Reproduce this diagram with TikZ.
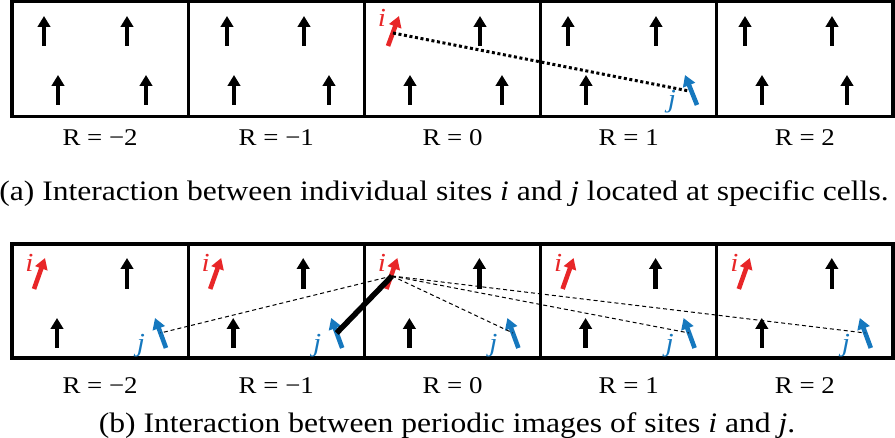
\documentclass[tikz,border=0pt]{standalone}
\usepackage{fontspec}
\setmainfont[FakeStretch=1.12]{Liberation Serif}
\usetikzlibrary{arrows.meta}
\definecolor{sred}{RGB}{232,38,40}
\definecolor{sblue}{RGB}{22,120,190}
\tikzset{
  spin/.style={line width=4.6pt,-{Triangle[width=12.5pt,length=11pt]}},
  cellbox/.style={line width=3.2pt},
  rlabel/.style={anchor=base,inner sep=0pt,font=\fontsize{24}{26}\selectfont},
  captxt/.style={anchor=base,inner sep=0pt,font=\fontsize{28.2}{31}\selectfont},
  lab/.style={anchor=base,inner sep=0pt,font=\fontsize{26}{28}\selectfont\itshape},
  dotlink/.style={line width=3pt,dash pattern=on 3pt off 2.6pt},
  dashlink/.style={line width=1pt,dash pattern=on 4pt off 3pt},
  thicklink/.style={line width=5.5pt}
}
\begin{document}
\begin{tikzpicture}[x=1pt,y=-1pt]
\useasboundingbox (0,0) rectangle (895,438);
% ---------- panel (a) ----------
\draw[cellbox] (12,1.6) rectangle (893,116.5);
\foreach \k in {1,...,4}{
  \pgfmathsetmacro\L{12+176.2*\k}
  \draw[cellbox] (\L,1.6) -- (\L,116.5);
}
% black spins, top row
\foreach \x in {44,127,227,304,480,568,656,745,832}{
  \draw[spin] (\x,46) -- (\x,16);
}
% black spins, bottom row
\foreach \x in {58,146,234,329,410,502,586,762,847}{
  \draw[spin] (\x,105) -- (\x,75);
}
\coordinate (ait) at (388,46);
\coordinate (aih) at (399,16);
\coordinate (ajt) at (697,105);
\coordinate (ajh) at (685,75);
\draw[spin,sred] (ait) -- (aih);
\draw[spin,sblue] (ajt) -- (ajh);
\node[lab,text=sred] (ail) at (382,27) {i};
\node[lab,text=sblue] (ajl) at (672,108) {j};
\coordinate (aic) at (393,33);
\coordinate (ajc) at (689,91);
\draw[dotlink] (aic) -- (ajc);
\foreach \k/\r in {0/−2,1/−1,2/0,3/1,4/2}{
  \pgfmathsetmacro\C{100.1+176.2*\k}
  \node[rlabel] (ra\k) at (\C,146) {R = \r};
}
\node[captxt] (capa) at (444,201) {(a) Interaction between individual sites \textit{i} and \textit{j} located at specific cells.};
% ---------- panel (b) ----------
\draw[cellbox] (12,244) rectangle (893,358);
\foreach \k in {1,...,4}{
  \pgfmathsetmacro\L{12+176.2*\k}
  \draw[cellbox] (\L,244) -- (\L,358);
}
\foreach \k in {0,...,4}{
  \pgfmathsetmacro\L{12+176.2*\k}
  \coordinate (bit\k) at (\L+22,289);
  \coordinate (bih\k) at (\L+33,258);
  \coordinate (bic\k) at (\L+27.6,276);
  \coordinate (bjt\k) at (\L+154,348);
  \coordinate (bjh\k) at (\L+143,318);
  \coordinate (bjc\k) at (\L+148.5,333);
  \draw[spin] (\L+115,289) -- (\L+115,258);
  \draw[spin] (\L+45,348) -- (\L+45,318);
  \draw[spin,sred] (bit\k) -- (bih\k);
  \draw[spin,sblue] (bjt\k) -- (bjh\k);
  \node[lab,text=sred] (bil\k) at (\L+17.5,272) {i};
  \node[lab,text=sblue] (bjl\k) at (\L+129,352) {j};
}
\draw[dashlink] (bic2) -- (bjc0);
\draw[dashlink] (bic2) -- (bjc2);
\draw[dashlink] (bic2) -- (bjc3);
\draw[dashlink] (bic2) -- (bjc4);
\draw[thicklink] (bjc1) -- (bic2);
\foreach \k/\r in {0/−2,1/−1,2/0,3/1,4/2}{
  \pgfmathsetmacro\C{100.1+176.2*\k}
  \node[rlabel] (rb\k) at (\C,394) {R = \r};
}
\node[captxt] (capb) at (447,432) {(b) Interaction between periodic images of sites \textit{i} and \textit{j}.};
\end{tikzpicture}
\end{document}
